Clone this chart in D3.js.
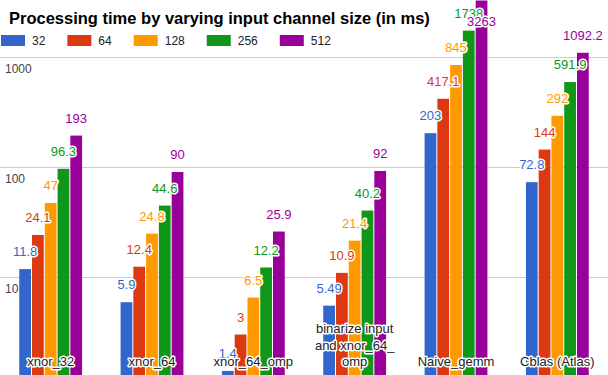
<!DOCTYPE html>
<html>
<head>
<meta charset="utf-8">
<script src="https://cdn.jsdelivr.net/npm/d3@7"></script>
<style>
  html, body { margin: 0; padding: 0; background: #fff; }
  svg { display: block; font-family: Arial, "Liberation Sans", sans-serif; }
</style>
</head>
<body>
<svg id="chart" width="608" height="375"></svg>
<script>
const title = "Processing time by varying input channel size (in ms)";
const categories = ["xnor_32", "xnor_64", "xnor_64_omp", "binarize input and xnor_64_omp", "Naive_gemm", "Cblas (Atlas)"];
const seriesNames = ["32", "64", "128", "256", "512"];
const seriesColors = ["#3366cc", "#dc3912", "#ff9900", "#109618", "#990099"];
const s32  = [11.8, 5.9, 1.4, 5.49, 203, 72.8];
const s64  = [24.1, 12.4, 3, 10.9, 417.1, 144];
const s128 = [47, 24.8, 6.5, 21.4, 845, 292];
const s256 = [96.3, 44.6, 12.2, 40.2, 1738, 591.9];
const s512 = [193, 90, 25.9, 92, 3263, 1092.2];
const seriesValues = [s32, s64, s128, s256, s512];
const tickValues = [10, 100, 1000];

const W = 608, H = 375;
const svg = d3.select("#chart");

const x0 = d3.scaleBand().domain(categories).range([0, W]).paddingInner(0.38).paddingOuter(0.19);
const x1 = d3.scaleBand().domain(seriesNames).range([0, x0.bandwidth()]).paddingInner(0.08);
const y = d3.scaleLog().domain([1, 10000]).range([387, -53]);

// gridlines + tick labels
const axis = d3.axisLeft(y).tickValues(tickValues).tickSize(-W).tickFormat(d3.format("d"));
const ga = svg.append("g").attr("class", "axis").call(axis);
ga.select(".domain").remove();
ga.selectAll(".tick line").attr("stroke", "#cccccc").attr("shape-rendering", "crispEdges");
ga.selectAll(".tick text")
  .attr("x", 5).attr("dy", 15).attr("text-anchor", "start")
  .attr("fill", "#444").attr("font-size", 12).attr("font-family", "Arial, 'Liberation Sans', sans-serif");

// bars
const rows = [];
categories.forEach((c, ci) => {
  seriesNames.forEach((s, si) => {
    rows.push({ cat: c, ser: s, si, v: seriesValues[si][ci] });
  });
});

svg.append("g").selectAll("rect").data(rows).join("rect")
  .attr("x", d => x0(d.cat) + x1(d.ser))
  .attr("width", x1.bandwidth())
  .attr("y", d => y(d.v))
  .attr("height", d => y(1) - y(d.v))
  .attr("fill", d => seriesColors[d.si]);

// data labels
svg.append("g").selectAll("text").data(rows).join("text")
  .attr("x", d => x0(d.cat) + x1(d.ser) + x1.bandwidth() / 2)
  .attr("y", d => {
    const top = y(d.v);
    return (top - 13 - 10 < 0) ? top + 25 : top - 13;
  })
  .attr("text-anchor", "middle")
  .attr("font-size", 13)
  .attr("fill", d => seriesColors[d.si])
  .attr("stroke", "#fff").attr("stroke-width", 3).attr("stroke-linejoin", "round")
  .attr("paint-order", "stroke")
  .text(d => String(d.v));

// category labels (inside, at bottom, wrapped)
function wrapTokens(str) {
  const toks = [];
  let cur = "";
  for (const ch of str) {
    cur += ch;
    if (ch === " " || ch === "_") { toks.push(cur); cur = ""; }
  }
  if (cur) toks.push(cur);
  return toks;
}
const maxW = 90;
const catG = svg.append("g");
categories.forEach(c => {
  const cx = x0(c) + x0.bandwidth() / 2;
  const t = catG.append("text")
    .attr("text-anchor", "middle").attr("font-size", 13).attr("fill", "#222")
    .attr("stroke", "#fff").attr("stroke-width", 3).attr("stroke-linejoin", "round")
    .attr("paint-order", "stroke");
  const toks = wrapTokens(c);
  const lines = [];
  let line = "";
  const probe = svg.append("text").attr("font-size", 13).attr("visibility", "hidden");
  toks.forEach(tok => {
    const test = line + tok;
    probe.text(test.trim());
    if (line && probe.node().getComputedTextLength() > maxW) {
      lines.push(line.trim());
      line = tok;
    } else {
      line = test;
    }
  });
  if (line) lines.push(line.trim());
  probe.remove();
  const lh = 16.5;
  const baseY = 366;
  lines.forEach((ln, i) => {
    t.append("tspan").attr("x", cx).attr("y", baseY - (lines.length - 1 - i) * lh).text(ln);
  });
});

// title
svg.append("text").attr("x", 9).attr("y", 24)
  .attr("font-size", 16.5).attr("font-weight", "bold").attr("fill", "#000")
  .text(title);

// legend
const lg = svg.append("g");
let lx = 1;
seriesNames.forEach((s, i) => {
  lg.append("rect").attr("x", lx).attr("y", 35).attr("width", 24).attr("height", 11)
    .attr("fill", seriesColors[i]);
  const tx = lg.append("text").attr("x", lx + 31).attr("y", 44.5)
    .attr("font-size", 12).attr("fill", "#222").text(s);
  lx += 31 + tx.node().getComputedTextLength() + 22;
});
</script>
</body>
</html>
